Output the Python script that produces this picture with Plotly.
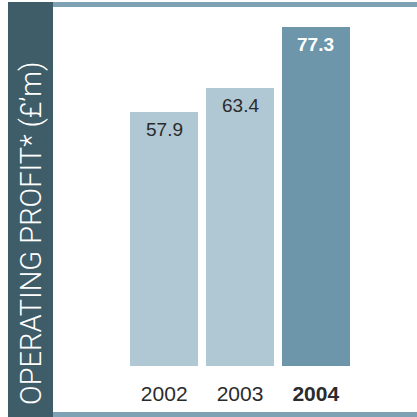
import plotly.graph_objects as go

# Operating profit by year (£'m)
years = ["2002", "2003", "2004"]
profit = [57.9, 63.4, 77.3]
tick_text = ["2002", "2003", "<b>2004</b>"]
label_text = ["57.9", "63.4", "<b>77.3</b>"]

W = H = 417
PLOT_BOTTOM = 366          # pixel row of the bar baseline
LIGHT = "#b0c7d4"
DARK = "#6d96aa"
STRIP = "#3f5d68"
RULE = "#7ea1b4"

bar_colors = [LIGHT, LIGHT, DARK]
label_colors = ["#2b2b2b", "#2b2b2b", "#ffffff"]


def py(px):
    """Convert a pixel row (from top) to paper y."""
    return (PLOT_BOTTOM - px) / PLOT_BOTTOM


def pxx(px):
    return px / W


fig = go.Figure(
    go.Bar(
        x=years,
        y=profit,
        marker=dict(color=bar_colors, line=dict(width=0)),
        width=0.9,
        hoverinfo="skip",
    )
)

# value labels inside the top of each bar (category axis -> serial index)
for i, (v, t, c) in enumerate(zip(profit, label_text, label_colors)):
    fig.add_annotation(
        x=i, y=v, xref="x", yref="y", text=t, showarrow=False,
        yanchor="middle", yshift=-17,
        font=dict(family="Liberation Sans, Arial, sans-serif", size=19, color=c),
    )

shapes = [
    # dark vertical title strip
    dict(type="rect", xref="paper", yref="paper",
         x0=pxx(8), x1=pxx(53), y0=py(417), y1=py(2),
         fillcolor=STRIP, line=dict(width=0), layer="below"),
    # top rule
    dict(type="rect", xref="paper", yref="paper",
         x0=pxx(53), x1=1.0, y0=py(7), y1=py(2),
         fillcolor=RULE, line=dict(width=0), layer="below"),
    # bottom rule
    dict(type="rect", xref="paper", yref="paper",
         x0=pxx(53), x1=1.0, y0=py(417), y1=py(412),
         fillcolor=RULE, line=dict(width=0), layer="below"),
]

fig.add_annotation(
    xref="paper", yref="paper", x=pxx(31), y=py(234),
    text="OPERATING PROFIT* (£’m)", textangle=-90, showarrow=False,
    xanchor="center", yanchor="middle",
    font=dict(family="Roboto, Liberation Sans, sans-serif", size=29,
              color="#ffffff", weight=300),
)

pitch = 75.8
x0 = -164.2 / pitch
fig.update_layout(
    width=W, height=H,
    margin=dict(l=0, r=0, t=0, b=H - PLOT_BOTTOM, pad=0),
    paper_bgcolor="white", plot_bgcolor="rgba(0,0,0,0)",
    showlegend=False,
    shapes=shapes,
    bargap=0,
    xaxis=dict(
        type="category", range=[x0, x0 + W / pitch],
        tickvals=years, ticktext=tick_text,
        showgrid=False, zeroline=False, showline=False, ticks="",
        tickfont=dict(family="Liberation Sans, Arial, sans-serif", size=21, color="#2b2b2b"),
        ticklabelstandoff=13, fixedrange=True,
    ),
    yaxis=dict(
        range=[0, PLOT_BOTTOM / 4.38],
        visible=False, showgrid=False, zeroline=False, fixedrange=True,
    ),
)

fig.write_html("out.html", config={"displayModeBar": False})
